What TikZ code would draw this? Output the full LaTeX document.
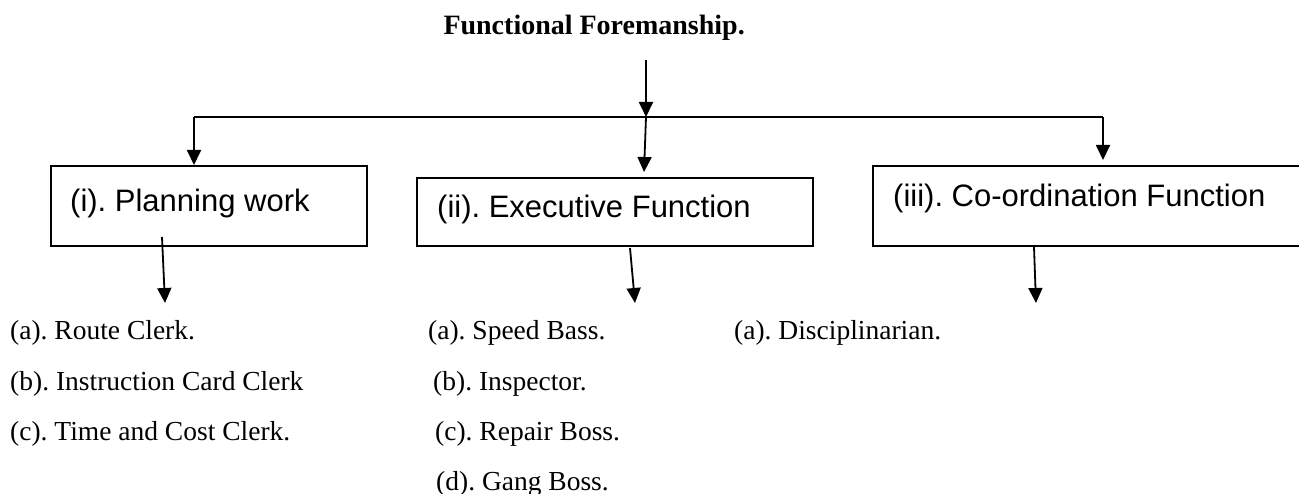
\documentclass[tikz,border=0pt]{standalone}
\usepackage{fontspec}
\setmainfont{Liberation Serif}
\newfontfamily\arialf{Liberation Sans}
\usetikzlibrary{arrows.meta}
\frenchspacing
\begin{document}
\frenchspacing
\begin{tikzpicture}[x=1pt,y=-1pt,
  box/.style={draw, line width=1.8pt, inner sep=0pt, anchor=north west},
  link/.style={line width=1.8pt},
  arr/.style={line width=1.8pt, -{Triangle[width=14pt,length=15pt]}},
  boxtext/.style={font=\arialf\fontsize{31}{36}\selectfont, anchor=base west, inner sep=0pt},
  item/.style={font=\fontsize{27.5}{33}\selectfont, anchor=base west, inner sep=0pt},
  ttl/.style={font=\bfseries\fontsize{28}{34}\selectfont, anchor=base east, inner sep=0pt}]
\useasboundingbox (0,0) rectangle (1299,494);
\clip (0,0) rectangle (1299,494);
% title
\node[ttl] (title) at (745,35) {Functional Foremanship.};
% boxes
\node[box, minimum width=316pt, minimum height=80pt] (b1) at (50,165) {};
\node[box, minimum width=396pt, minimum height=68pt] (b2) at (416,177) {};
\node[box, minimum width=440pt, minimum height=80pt] (b3) at (872,165) {};
\node[boxtext] (t1) at (70,212) {(i). Planning work};
\node[boxtext] (t2) at (437,218) {(ii). Executive Function};
\node[boxtext] (t3) at (893,207) {(iii). Co-ordination Function};
% connectors
\coordinate (t0) at (646,60);
\coordinate (j) at (646,117);
\coordinate (jl) at (194,117);
\coordinate (jr) at (1103,117);
\draw[arr] (t0) -- (j);
\draw[link] (jl) -- (jr);
\draw[arr] (jl) -- (jl |- b1.north);
\draw[arr] (jr) -- ([yshift=5pt]jr |- b3.north);
\draw[arr] (j) -- ([xshift=-2pt,yshift=5pt]j |- b2.north);
% lower arrows
\coordinate (s1) at (162,237);
\coordinate (e1) at (165,303);
\coordinate (s2) at (630,248);
\coordinate (e2) at (635,303);
\coordinate (s3) at (1034,247);
\coordinate (e3) at (1036,303);
\draw[arr] (s1) -- (e1);
\draw[arr] (s2) -- (e2);
\draw[arr] (s3) -- (e3);
% lists
\node[item] (a1) at (10,340) {(a). Route Clerk.};
\node[item] (a2) at (10,390) {(b). Instruction Card Clerk};
\node[item] (a3) at (10,440) {(c). Time and Cost Clerk.};
\node[item] (m1) at (428,340) {(a). Speed Bass.};
\node[item] (m2) at (433,390) {(b). Inspector.};
\node[item] (m3) at (435,440) {(c). Repair Boss.};
\node[item] (m4) at (436,490) {(d). Gang Boss.};
\node[item] (r1) at (734,340) {(a). Disciplinarian.};
\end{tikzpicture}
\end{document}
